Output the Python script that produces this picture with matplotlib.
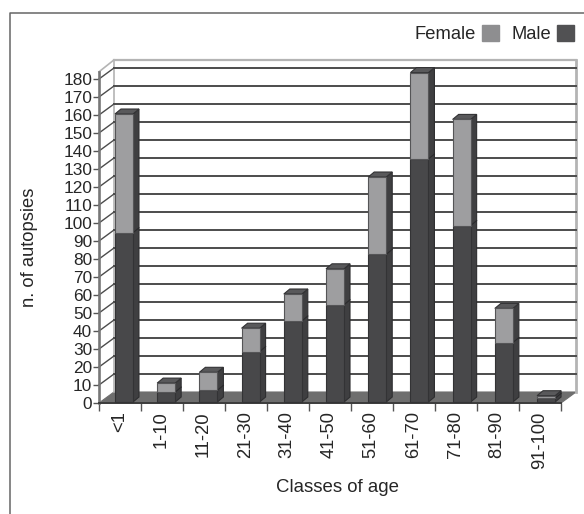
import matplotlib
matplotlib.use("Agg")
import matplotlib.pyplot as plt
from matplotlib.patches import Polygon, Patch
from matplotlib.lines import Line2D

plt.rcParams['font.family'] = ['Liberation Sans', 'DejaVu Sans']

age_classes = ["<1", "1-10", "11-20", "21-30", "31-40", "41-50", "51-60", "61-70", "71-80", "81-90", "91-100"]
male = [94, 5.5, 6.5, 28, 45, 54, 82, 135, 98, 33, 2]
female = [66, 5, 10, 13, 15, 20, 43, 48, 59, 19, 1.5]
y_ticks = list(range(0, 190, 10))

# colours
MALE = "#48484a"
FEMALE = "#9e9ea0"
SIDE = "#3f3f41"
TOP = "#59595b"
FLOOR = "#6e6e6e"
GRID = "#4c4c4c"
WALL = "#b4b4b4"
TEXT = "#262626"

# depth of the fake 3d box and of the bars, in axis units
DX, DY = 15 / 42, 11 / 1.8
BAR_DX, BAR_DY = 6 / 42, 5 / 1.8
BAR_X, BAR_W, BAR_BASE, BAR_STEP = 0.38, 18 / 42, 0.55, 1.005

fig = plt.figure(figsize=(5.84, 5.14), dpi=100)
ax = fig.add_axes([99 / 584, 1 - 403 / 514, 462 / 584, 324 / 514])
ax.set_xlim(0, len(age_classes))
ax.set_ylim(0, 180)
for s in ax.spines.values():
    s.set_visible(False)
ax.patch.set_visible(False)


def poly(pts, fc, ec=None, lw=0.8, z=3):
    ax.add_patch(Polygon(pts, closed=True, fc=fc, ec=ec if ec else fc, lw=lw, zorder=z, clip_on=False))


def line(xs, ys, c, lw=1.0, z=2):
    ax.add_line(Line2D(xs, ys, color=c, lw=lw, zorder=z, clip_on=False))


n = len(age_classes)
top_y = 180 + DY + 4.5

# walls, floor
poly([(0, 0), (n, 0), (n + DX, DY), (DX, DY)], FLOOR, z=1.5)
line([DX, DX], [DY, top_y], WALL, 1.2)
line([n + DX, n + DX], [DY, top_y], WALL, 2.0)
line([DX, n + DX], [top_y, top_y], WALL, 1.6)
line([0, DX], [184, top_y], WALL, 1.2)
for v in y_ticks[1:]:
    line([DX, n + DX], [v + DY, v + DY], GRID, 1.4)
    line([0, DX], [v, v + DY], GRID, 1.0)
line([0, 0], [0, 184], "#777777", 1.9)
line([0, n], [0, 0], "#3c3c3c", 1.4, z=2.5)

# bars
for i, (m, f) in enumerate(zip(male, female)):
    x0 = i * BAR_STEP + BAR_X
    x1 = x0 + BAR_W
    b = BAR_BASE
    t = b + m + f
    z = 3
    # side faces
    poly([(x1, b), (x1 + BAR_DX, b + BAR_DY), (x1 + BAR_DX, t + BAR_DY), (x1, t)], SIDE, "#2e2e30", z=z)
    line([x1, x1 + BAR_DX], [b + m, b + m + BAR_DY], "#2a2a2c", 0.8, z=z + 0.1)
    # top face
    poly([(x0, t), (x1, t), (x1 + BAR_DX, t + BAR_DY), (x0 + BAR_DX, t + BAR_DY)], TOP, "#333335", z=z)
    # front faces
    poly([(x0, b), (x1, b), (x1, b + m), (x0, b + m)], MALE, "#333335", z=z + 0.1)
    poly([(x0, b + m), (x1, b + m), (x1, t), (x0, t)], FEMALE, "#555557", z=z + 0.1)

# ticks and labels
ax.set_yticks(y_ticks)
ax.set_yticklabels([str(v) for v in y_ticks], fontsize=12.4, color=TEXT)
ax.tick_params(axis="y", length=4, width=1.0, color="#555555", pad=1)
ax.set_xticks(range(n + 1))
ax.set_xticklabels([])
ax.tick_params(axis="x", length=6, width=1.0, color="#555555")
ax.set_xticks([i + 0.48 for i in range(n)], minor=True)
ax.set_xticklabels(age_classes, minor=True, rotation=90, fontsize=13.2, color=TEXT, va="top", ha="center")
ax.tick_params(axis="x", which="minor", length=0, pad=6)

fig.text(338 / 584, 1 - 488 / 514, "Classes of age", fontsize=13.4, color=TEXT, ha="center", va="center")
fig.text(29 / 584, 1 - 247 / 514, "n. of autopsies", fontsize=13.2, color=TEXT, rotation=90, ha="center", va="center")

handles = [Patch(fc="#8e8e90", ec="#8e8e90"), Patch(fc="#515153", ec="#515153")]
fig.legend(handles, ["Female", "Male"], ncol=2, markerfirst=False, frameon=False,
           loc="upper right", bbox_to_anchor=(574 / 584, 1 - 25 / 514), fontsize=13.2,
           handlelength=0.93, handleheight=0.93, handletextpad=0.3, columnspacing=0.7,
           borderpad=0, borderaxespad=0, labelcolor=TEXT)

# outer frame, only top and left are visible
fig.add_artist(Line2D([10 / 584, 10 / 584, 1], [0, 1 - 13 / 514, 1 - 13 / 514], color="#666666", lw=1.1))

fig.savefig("out.png", dpi=100)
